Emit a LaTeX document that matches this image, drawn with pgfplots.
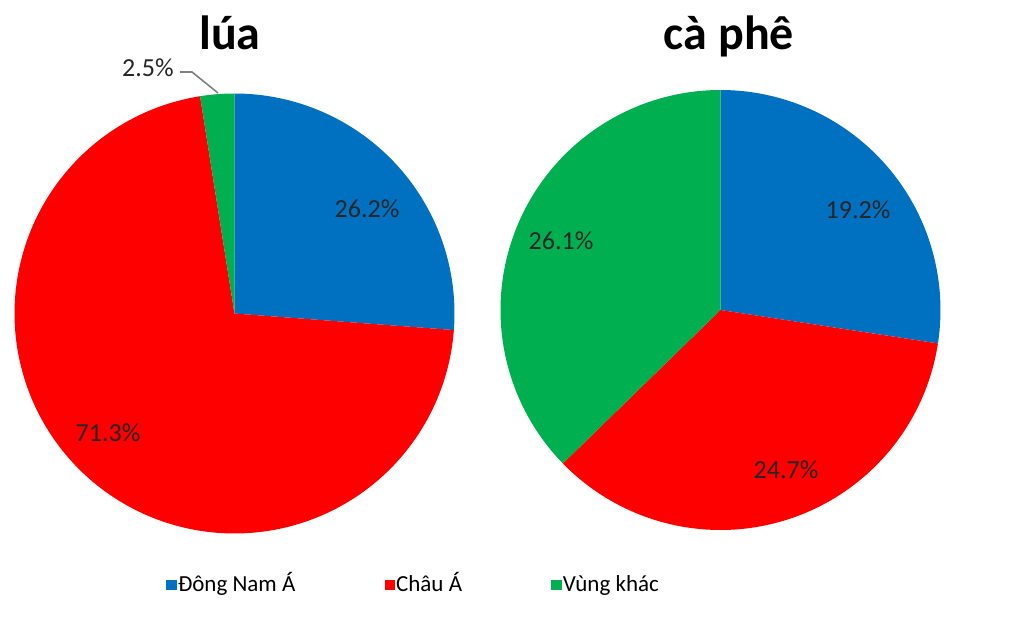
\documentclass[border=0pt]{standalone}
\usepackage{pgfplots}
\usepackage{pgfplotstable}
\usepackage{fontspec}
\setmainfont{Carlito}
\pgfplotsset{compat=1.18}
\definecolor{cBlue}{RGB}{0,112,192}
\definecolor{cRed}{RGB}{255,0,0}
\definecolor{cGreen}{RGB}{0,176,80}

\pgfplotstableread{
region lua caphe
DNA 26.2 19.2
CA 71.3 24.7
VK 2.5 26.1
}\piedata

\begin{document}
\begin{tikzpicture}
\pgfplotstablegetelem{0}{lua}\of\piedata \let\luaA\pgfplotsretval
\pgfplotstablegetelem{1}{lua}\of\piedata \let\luaB\pgfplotsretval
\pgfplotstablegetelem{2}{lua}\of\piedata \let\luaC\pgfplotsretval
\pgfplotstablegetelem{0}{caphe}\of\piedata \let\cpA\pgfplotsretval
\pgfplotstablegetelem{1}{caphe}\of\piedata \let\cpB\pgfplotsretval
\pgfplotstablegetelem{2}{caphe}\of\piedata \let\cpC\pgfplotsretval
\pgfmathsetmacro{\luaT}{\luaA+\luaB+\luaC}
\pgfmathsetmacro{\luaP}{90-360*(\luaA/\luaT)}
\pgfmathsetmacro{\luaQ}{90-360*((\luaA+\luaB)/\luaT)}
\pgfmathsetmacro{\cpT}{\cpA+\cpB+\cpC}
\pgfmathsetmacro{\cpP}{90-360*(\cpA/\cpT)}
\pgfmathsetmacro{\cpQ}{90-360*((\cpA+\cpB)/\cpT)}
\begin{axis}[
  scale only axis, width=512pt, height=311pt,
  xmin=0, xmax=1024, ymin=0, ymax=622,
  axis line style={draw=none}, xtick=\empty, ytick=\empty,
  clip=false,
  legend columns=3,
  legend image code/.code={\fill[#1] (0pt,-2.6pt) rectangle (5.2pt,2.6pt);},
  legend style={at={(axis cs:166,37)}, anchor=west, draw=none, fill=none,
    inner sep=0pt, font=\fontsize{11.5}{13}\selectfont,
    nodes={inner sep=0.6pt, text height=8.6pt, text depth=2.6pt},
    /tikz/every even column/.append style={column sep=44pt}},
  legend cell align=left,
]
% lúa
\addplot[fill=cBlue, draw=none, domain=\luaP:90, samples=90, variable=\t]
  ({234.5+220*cos(\t)},{308.5+220*sin(\t)}) -- (axis cs:234.5,308.5) -- cycle;
\addlegendentry{Đông Nam Á}
\addplot[fill=cRed, draw=none, domain=\luaQ:\luaP, samples=180, variable=\t]
  ({234.5+220*cos(\t)},{308.5+220*sin(\t)}) -- (axis cs:234.5,308.5) -- cycle;
\addlegendentry{Châu Á}
\addplot[fill=cGreen, draw=none, domain=-270:\luaQ, samples=20, variable=\t]
  ({234.5+220*cos(\t)},{308.5+220*sin(\t)}) -- (axis cs:234.5,308.5) -- cycle;
\addlegendentry{Vùng khác}
% cà phê
\addplot[forget plot, fill=cBlue, draw=none, domain=\cpP:90, samples=90, variable=\t]
  ({720.5+220*cos(\t)},{312+220*sin(\t)}) -- (axis cs:720.5,312) -- cycle;
\addplot[forget plot, fill=cRed, draw=none, domain=\cpQ:\cpP, samples=90, variable=\t]
  ({720.5+220*cos(\t)},{312+220*sin(\t)}) -- (axis cs:720.5,312) -- cycle;
\addplot[forget plot, fill=cGreen, draw=none, domain=-270:\cpQ, samples=90, variable=\t]
  ({720.5+220*cos(\t)},{312+220*sin(\t)}) -- (axis cs:720.5,312) -- cycle;
% leader line for 2.5%
\addplot[forget plot, gray, line width=0.8pt] coordinates {(180,550) (192,550) (218,529)};
% titles
\node[anchor=base, font=\bfseries\fontsize{24}{28}\selectfont] at (axis cs:230,572) {lúa};
\node[anchor=base, font=\bfseries\fontsize{24}{28}\selectfont] at (axis cs:729,572) {cà phê};
% data labels
\begin{scope}[every node/.style={font=\fontsize{13}{15}\selectfont, text=black!85}]
\node at (axis cs:367,413) {26.2\%};
\node at (axis cs:108,189) {71.3\%};
\node at (axis cs:148,554) {2.5\%};
\node at (axis cs:858,412) {19.2\%};
\node at (axis cs:786,152) {24.7\%};
\node at (axis cs:561,381) {26.1\%};
\end{scope}
\end{axis}
\end{tikzpicture}
\end{document}
